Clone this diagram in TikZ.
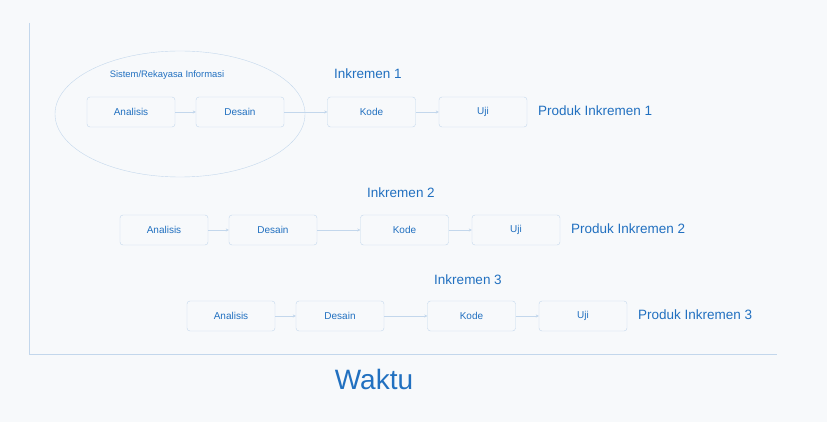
\documentclass[tikz,border=0pt]{standalone}
\usepackage{fontspec}
\setmainfont{Liberation Sans}
\usetikzlibrary{arrows.meta,shapes.geometric}
\definecolor{paper}{HTML}{F7F9FB}
\definecolor{ink}{HTML}{2170C0}
\definecolor{pale}{HTML}{C3D7EC}
\tikzset{
	phase/.style={draw=pale, rounded corners=3pt, minimum width=88pt, minimum height=30pt, inner sep=0pt, text=ink, font=\fontsize{10}{12}\selectfont},
	flow/.style={draw=pale, -{Stealth[length=3pt,width=3pt]}},
	heading/.style={text=ink, font=\fontsize{13.5}{16}\selectfont}
}
\begin{document}
\begin{tikzpicture}[x=1pt,y=-1pt]
	\fill [paper] (0,0) rectangle (827,422);
	\useasboundingbox (0,0) rectangle (827,422);
	\coordinate (top) at (29,23);
	\coordinate (origin) at (29,354);
	\coordinate (end) at (777,354);
	\draw [pale, line width=1pt] (top) -- (origin) -- (end);
	\node [text=ink, font=\fontsize{28}{32}\selectfont] (waktu) at (374,379) {Waktu};
	\node [draw=pale, ellipse, minimum width=250pt, minimum height=126pt] (sys) at (180,114) {};
	\node [text=ink, font=\fontsize{9.4}{11}\selectfont] (syslabel) at (167,75) {Sistem/Rekayasa Informasi};
	\foreach \r/\dx/\y/\dy in {1/0/112/74, 2/33/230/193, 3/100/316/280} {
		\node [phase] (a\r) at (131+\dx,\y) {Analisis};
		\node [phase] (d\r) at (240+\dx,\y) {Desain};
		\node [phase] (k\r) at (371.5+\dx,\y) {Kode};
		\node [phase] (u\r) at (483+\dx,\y) {Uji};
		\node [heading] (inc\r) at (368+\dx,\dy) {Inkremen \r};
		\node [heading, right, inner sep=0pt] (prod\r) at (538+\dx,\y-1) {Produk Inkremen \r};
		\draw [flow] (a\r) -- (d\r);
		\draw [flow] (d\r) -- (k\r);
		\draw [flow] (k\r) -- (u\r);
	}
\end{tikzpicture}
\end{document}
